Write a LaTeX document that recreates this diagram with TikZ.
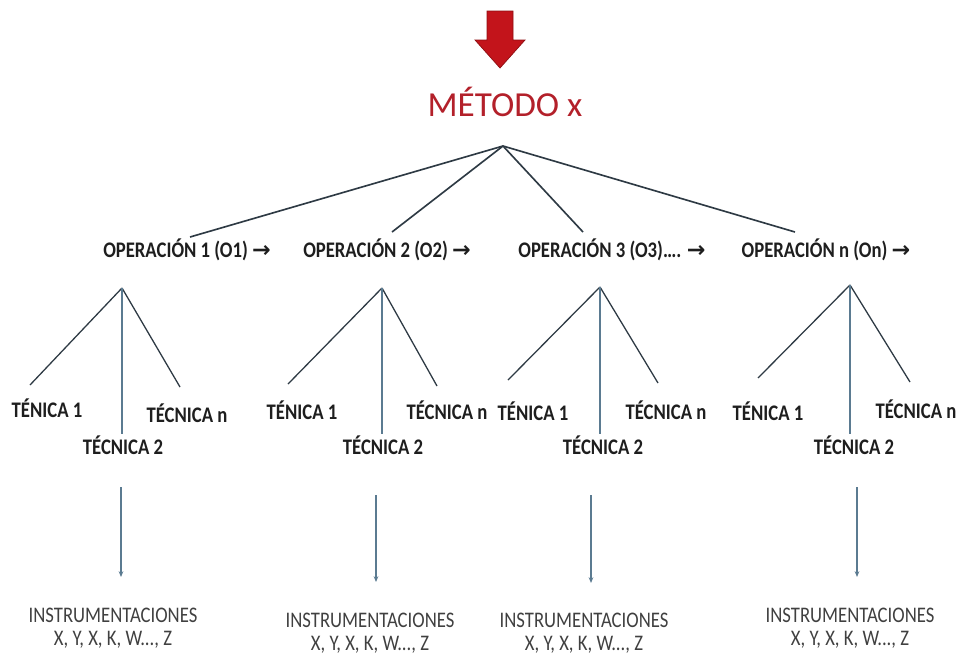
\documentclass[tikz,border=0pt]{standalone}
\usepackage{fontspec}
\setmainfont{Carlito}
\newfontfamily\narrowfont[FakeStretch=0.84]{Carlito}
\newfontfamily\arrowfont{DejaVu Sans}
\usetikzlibrary{arrows.meta}
\definecolor{metodored}{HTML}{B3202A}
\definecolor{arrowred}{HTML}{C3141B}
\definecolor{arrowdark}{HTML}{8E0E12}
\definecolor{linegray}{HTML}{2E3A44}
\definecolor{steelline}{HTML}{5B7B91}
\definecolor{textgray}{HTML}{1E1E1E}
\newcommand{\oparrow}{{\arrowfont\bfseries →}}

\begin{document}
\begin{tikzpicture}[
    x=0.03cm, y=-0.03cm,
    every node/.style={inner sep=1pt, text=textgray},
    metodo/.style={font=\fontsize{30}{34}\selectfont, text=metodored},
    oper/.style={font=\narrowfont\fontsize{19}{21}\selectfont\bfseries},
    tecnica/.style={font=\narrowfont\fontsize{19}{21}\selectfont\bfseries},
    instr/.style={font=\narrowfont\fontsize{19}{19.5}\selectfont, text=textgray!85, align=center},
    branch/.style={draw=linegray, line width=1.4pt},
    twig/.style={draw=linegray, line width=1.1pt},
    stem/.style={draw=steelline, line width=1pt},
    down/.style={draw=steelline, line width=1pt, -{Stealth[length=5pt, width=4pt]}}
]
\useasboundingbox (0,0) rectangle (961,658);

% Big red arrow
\filldraw[fill=arrowred, draw=arrowdark, line width=0.6pt]
    (487,11) -- (513,11) -- (513,40) -- (525,40) -- (500,68) -- (475,40) -- (487,40) -- cycle;

% Method
\node[metodo] (metodo) at (505,102) {MÉTODO x};
\coordinate (top) at (503,146);

% Operations
\node[oper] (op1) at (187,250) {OPERACIÓN 1 (O1) \oparrow};
\node[oper] (op2) at (387,250) {OPERACIÓN 2 (O2) \oparrow};
\node[oper] (op3) at (612,250) {OPERACIÓN 3 (O3)…. \oparrow};
\node[oper] (op4) at (826,250) {OPERACIÓN n (On) \oparrow};

\coordinate (e1) at (190,237);
\coordinate (e2) at (392,232);
\coordinate (e3) at (583,232);
\coordinate (e4) at (795,232);

\draw[branch] (top) -- (e1);
\draw[branch] (top) -- (e2);
\draw[branch] (top) -- (e3);
\draw[branch] (top) -- (e4);

% Operation 1 techniques
\coordinate (a1) at (122,288);
\node[tecnica] (t1a) at (47,408) {TÉNICA 1};
\node[tecnica] (t1b) at (123,445) {TÉCNICA 2};
\node[tecnica] (t1c) at (187,413) {TÉCNICA n};
\coordinate (l1) at (30,385);
\coordinate (r1) at (180,387);

% Operation 2 techniques
\coordinate (a2) at (382,288);
\node[tecnica] (t2a) at (302,410) {TÉNICA 1};
\node[tecnica] (t2b) at (383,445) {TÉCNICA 2};
\node[tecnica] (t2c) at (447,410) {TÉCNICA n};
\coordinate (l2) at (288,384);
\coordinate (r2) at (437,386);

% Operation 3 techniques
\coordinate (a3) at (600,287);
\node[tecnica] (t3a) at (533,411) {TÉNICA 1};
\node[tecnica] (t3b) at (603,445) {TÉCNICA 2};
\node[tecnica] (t3c) at (666,410) {TÉCNICA n};
\coordinate (l3) at (508,380);
\coordinate (r3) at (658,383);

% Operation n techniques
\coordinate (a4) at (850,285);
\node[tecnica] (t4a) at (768,411) {TÉNICA 1};
\node[tecnica] (t4b) at (854,445) {TÉCNICA 2};
\node[tecnica] (t4c) at (916,409) {TÉCNICA n};
\coordinate (l4) at (758,378);
\coordinate (r4) at (910,382);

% Technique branches
\draw[twig] (a1) -- (l1);
\draw[twig] (a1) -- (r1);
\draw[stem] (a1) -- (t1b.north -| a1);

\draw[twig] (a2) -- (l2);
\draw[twig] (a2) -- (r2);
\draw[stem] (a2) -- (t2b.north -| a2);

\draw[twig] (a3) -- (l3);
\draw[twig] (a3) -- (r3);
\draw[stem] (a3) -- (t3b.north -| a3);

\draw[twig] (a4) -- (l4);
\draw[twig] (a4) -- (r4);
\draw[stem] (a4) -- (t4b.north -| a4);

% Instrumentations
\node[instr] (i1) at (113,628) {INSTRUMENTACIONES\\X, Y, X, K, W..., Z};
\node[instr] (i2) at (370,633) {INSTRUMENTACIONES\\X, Y, X, K, W..., Z};
\node[instr] (i3) at (584,633) {INSTRUMENTACIONES\\X, Y, X, K, W..., Z};
\node[instr] (i4) at (850,628) {INSTRUMENTACIONES\\X, Y, X, K, W..., Z};

\coordinate (s1) at (121,487);
\coordinate (s2) at (376,495);
\coordinate (s3) at (591,495);
\coordinate (s4) at (857,487);
\coordinate (f1) at (121,577);
\coordinate (f2) at (376,582);
\coordinate (f3) at (591,583);
\coordinate (f4) at (857,577);

\draw[down] (s1) -- (f1);
\draw[down] (s2) -- (f2);
\draw[down] (s3) -- (f3);
\draw[down] (s4) -- (f4);

\end{tikzpicture}
\end{document}
